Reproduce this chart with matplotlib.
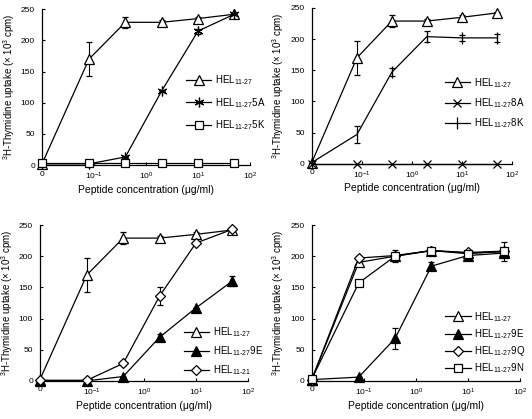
import numpy as np
import matplotlib
matplotlib.use('Agg')
from matplotlib import pyplot as plt
from matplotlib.lines import Line2D

plt.rcParams['font.family'] = ['Liberation Sans', 'DejaVu Sans']
plt.rcParams['mathtext.fontset'] = 'custom'
plt.rcParams['mathtext.rm'] = 'Liberation Sans'
plt.rcParams['mathtext.it'] = 'Liberation Sans:italic'
plt.rcParams['mathtext.bf'] = 'Liberation Sans:bold'

# 浓度 (0 画在 10^-2 处)
conc = [0, 0.08, 0.4, 2, 10, 50]
xticks = [0.01, 0.1, 1, 10, 100]
xticklabels = ['0', '10$^{-1}$', '10$^{0}$', '10$^{1}$', '10$^{2}$']
yticks = [0, 50, 100, 150, 200, 250]

# HEL11-27 (前三个图共用)
hel27 = [2, 170, 229, 229, 235, 242]
hel27_err = [0, 27, 9, 3, 3, 2]

# 图1
p1_5a = [2, 2, 13, 119, 215, 242]
p1_5a_err = [0, 0, 0, 0, 4, 0]
p1_5k = [3, 3, 3, 3, 3, 3]

# 图2
p2_8a = [0, 0, 0, 0, 0, 0]
p2_8k = [2, 47, 147, 204, 202, 202]
p2_8k_err = [0, 14, 6, 9, 5, 7]

# 图3
p3_9e = [0, 0, 7, 70, 117, 160]
p3_9e_err = [0, 0, 0, 5, 0, 8]
p3_1121 = [1, 1, 28, 136, 221, 243]
p3_1121_err = [0, 0, 0, 14, 0, 0]

# 图4
p4_hel = [2, 190, 200, 209, 205, 207]
p4_9e = [2, 6, 68, 184, 201, 205]
p4_9e_err = [0, 0, 17, 6, 0, 0]
p4_9q = [2, 197, 201, 209, 206, 208]
p4_9n = [3, 157, 200, 209, 204, 208]
p4_9n_err = [0, 0, 10, 0, 5, 15]

HEL = r'HEL$_{11\text{-}27}$'

def xs(c):
    return [0.01 if v == 0 else v for v in c]

def series(ax, y, err, label, handles, **kw):
    base = dict(color='black', lw=0.9, mec='black', mew=0.9)
    base.update(kw)
    e = ax.errorbar(xs(conc), y, yerr=err, clip_on=False,
                    elinewidth=0.8, capsize=2, capthick=0.8, **base)
    for art in e.lines[1] + e.lines[2]:
        art.set_clip_on(False)
    base.pop('zorder', None)
    handles.append(Line2D([], [], label=label, **base))

def setup(ax):
    ax.set_xscale('log')
    ax.set_xlim(0.01, 100)
    ax.set_ylim(0, 250)
    ax.set_xticks(xticks)
    ax.set_xticklabels(xticklabels)
    ax.minorticks_off()
    ax.set_yticks(yticks)
    ax.spines['top'].set_visible(False)
    ax.spines['right'].set_visible(False)
    ax.spines['left'].set_linewidth(0.9)
    ax.spines['bottom'].set_linewidth(0.9)
    ax.tick_params(direction='in', length=2.5, width=0.8, labelsize=6)
    ax.tick_params(axis='y', pad=5)
    ax.tick_params(axis='x', pad=4)
    ax.set_xlabel('Peptide concentration (\u03bcg/ml)', fontsize=7.5, labelpad=2)
    ax.set_ylabel(r'$^{3}$H-Thymidine uptake ($\times$ 10$^{3}$ cpm)', fontsize=7, labelpad=3)

def legend(ax, handles, anchor, spacing):
    ax.legend(handles=handles, loc='center left', bbox_to_anchor=anchor, frameon=False,
              fontsize=7, handlelength=2.6, labelspacing=spacing, handletextpad=0.4)

fig = plt.figure(figsize=(5.32, 4.19), dpi=100)
ax1 = fig.add_axes([0.079, 0.606, 0.391, 0.372])
ax2 = fig.add_axes([0.586, 0.609, 0.376, 0.372])
ax3 = fig.add_axes([0.075, 0.091, 0.391, 0.372])
ax4 = fig.add_axes([0.586, 0.091, 0.391, 0.372])

open_tri = dict(marker='^', ms=7, mfc='white')
fill_tri = dict(marker='^', ms=7, mfc='black')
open_sq = dict(marker='s', ms=6, mfc='white')
open_dia = dict(marker='D', ms=5, mfc='white')

# 图1
setup(ax1)
h = []
series(ax1, hel27, hel27_err, HEL, h, zorder=3, **open_tri)
series(ax1, p1_5a, p1_5a_err, HEL + '5A', h, marker=(6, 2, 0), ms=7, zorder=4)
series(ax1, p1_5k, None, HEL + '5K', h, zorder=5, **open_sq)
legend(ax1, h, (0.65, 0.40), 0.9)

# 图2
setup(ax2)
h = []
series(ax2, hel27, hel27_err, HEL, h, zorder=3, **open_tri)
series(ax2, p2_8a, None, HEL + '8A', h, marker='x', ms=6, zorder=4)
series(ax2, p2_8k, p2_8k_err, HEL + '8K', h, marker='|', ms=8, zorder=4)
legend(ax2, h, (0.62, 0.39), 0.68)

# 图3
setup(ax3)
h = []
series(ax3, hel27, hel27_err, HEL, h, zorder=3, **open_tri)
series(ax3, p3_9e, p3_9e_err, HEL + '9E', h, zorder=4, **fill_tri)
series(ax3, p3_1121, p3_1121_err, r'HEL$_{11\text{-}21}$', h, zorder=5, **open_dia)
legend(ax3, h, (0.65, 0.19), 0.53)

# 图4
setup(ax4)
h = []
series(ax4, p4_hel, None, HEL, h, zorder=3, **open_tri)
series(ax4, p4_9e, p4_9e_err, HEL + '9E', h, zorder=4, **fill_tri)
series(ax4, p4_9q, None, HEL + '9Q', h, zorder=5, **open_dia)
series(ax4, p4_9n, p4_9n_err, HEL + '9N', h, zorder=6, **open_sq)
legend(ax4, h, (0.6, 0.245), 0.35)

fig.savefig('out.png', dpi=100)
